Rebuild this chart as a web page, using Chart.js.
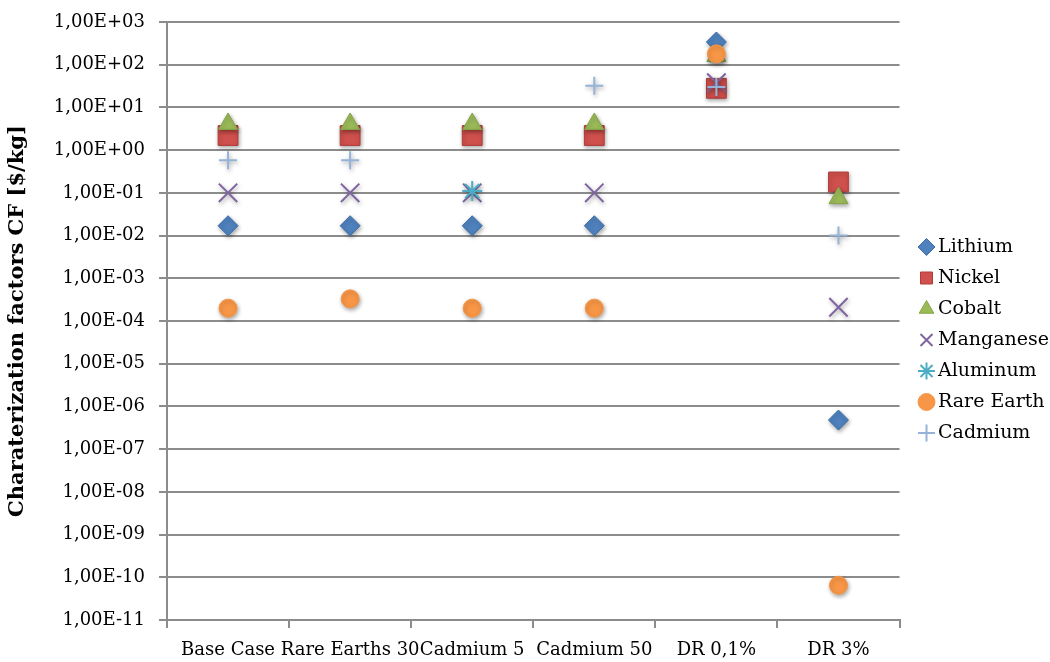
<!DOCTYPE html>
<html lang="en">
<head>
    <meta charset="UTF-8">
    <title>Charaterization factors</title>
    <script src="https://cdn.jsdelivr.net/npm/chart.js"></script>
    <style>
        body { margin: 0; background: #fff; }
        #box { width: 1050px; height: 662px; }
    </style>
</head>
<body>
    <div id="box"><canvas id="grafico"></canvas></div>
    <script>
        // categories and values
        var categories = ['Base Case', 'Rare Earths 30', 'Cadmium 5', 'Cadmium 50', 'DR 0,1%', 'DR 3%'];
        var lithium   = [1.7e-2, 1.7e-2, 1.7e-2, 1.7e-2, 3.4e2, 4.8e-7];
        var nickel    = [2.2, 2.2, 2.2, 2.2, 28, 0.18];
        var cobalt    = [4.1, 4.1, 4.1, 4.1, 160, 0.075];
        var manganese = [0.1, 0.1, 0.1, 0.1, 38, 2.1e-4];
        var aluminum  = [null, null, 0.11, null, null, null];
        var rareEarth = [2.0e-4, 3.3e-4, 2.0e-4, 2.0e-4, 1.8e2, 6.5e-11];
        var cadmium   = [0.58, 0.58, null, 32, 30, 1.0e-2];
        var yTicks = [1e3, 1e2, 1e1, 1e0, 1e-1, 1e-2, 1e-3, 1e-4, 1e-5, 1e-6, 1e-7, 1e-8, 1e-9, 1e-10, 1e-11];

        var serif = "'DejaVu Serif', serif";

        function fmt(v) {
            var e = Math.round(Math.log10(v));
            var m = v / Math.pow(10, e);
            var s = e < 0 ? '-' : '+';
            var a = Math.abs(e);
            return m.toFixed(2).replace('.', ',') + 'E' + s + (a < 10 ? '0' + a : a);
        }

        function serie(label, data, style, radius, fill, border, bw, idx) {
            return {
                label: label,
                data: data,
                pointStyle: style,
                pointRadius: radius,
                pointHoverRadius: radius,
                backgroundColor: fill,
                borderColor: border,
                pointBorderWidth: bw,
                showLine: false,
                order: -idx
            };
        }

        // drop shadow under the markers, like the original
        var sombra = {
            id: 'sombra',
            afterLayout: function (chart) {
                // nudge the legend a little to the right
                chart.legend.left += 13;
                chart.legend.right += 13;
                chart.legend.top -= 2;
                chart.legend.bottom -= 2;
            },
            beforeDatasetsDraw: function (chart) {
                var c = chart.ctx;
                c.save();
                c.shadowColor = 'rgba(0,0,0,0.35)';
                c.shadowBlur = 4;
                c.shadowOffsetX = 1;
                c.shadowOffsetY = 2;
            },
            afterDatasetsDraw: function (chart) {
                chart.ctx.restore();
            }
        };

        var ctx = document.getElementById('grafico').getContext('2d');
        var grafico = new Chart(ctx, {
            type: 'line',
            data: {
                labels: categories,
                datasets: [
                    serie('Lithium', lithium, 'rectRot', 10, '#4F81BD', '#3C6DA8', 1, 0),
                    serie('Nickel', nickel, 'rect', 14, '#D0504D', '#B03C39', 1, 1),
                    serie('Cobalt', cobalt, 'triangle', 11, '#9BBB59', '#86A447', 1, 2),
                    serie('Manganese', manganese, 'crossRot', 13, '#8064A2', '#8064A2', 2, 3),
                    serie('Aluminum', aluminum, 'star', 10, '#4BACC6', '#4BACC6', 2, 4),
                    serie('Rare Earth', rareEarth, 'circle', 9, '#F79646', '#F79646', 1, 5),
                    serie('Cadmium', cadmium, 'cross', 9, '#95B3D7', '#95B3D7', 2, 6)
                ]
            },
            options: {
                responsive: true,
                maintainAspectRatio: false,
                animation: false,
                layout: { padding: { top: 22, right: 4, left: 0, bottom: 0 } },
                plugins: {
                    tooltip: { enabled: false },
                    legend: {
                        position: 'right',
                        labels: {
                            usePointStyle: true,
                            boxWidth: 4,
                            boxHeight: 12,
                            padding: 12,
                            color: '#000',
                            font: { family: serif, size: 19 },
                            sort: function (a, b) { return a.datasetIndex - b.datasetIndex; }
                        }
                    }
                },
                scales: {
                    x: {
                        type: 'category',
                        offset: true,
                        afterFit: function (scale) {
                            scale.height = 42;
                        },
                        grid: {
                            offset: true,
                            drawOnChartArea: false,
                            drawTicks: true,
                            tickLength: 8,
                            color: '#8c8c8c',
                            lineWidth: 2
                        },
                        border: { color: '#8c8c8c', width: 2 },
                        ticks: {
                            color: '#000',
                            font: { family: serif, size: 18 },
                            maxRotation: 0,
                            minRotation: 0,
                            autoSkip: false,
                            padding: 12
                        }
                    },
                    y: {
                        type: 'logarithmic',
                        min: 1e-11,
                        max: 1e3,
                        afterBuildTicks: function (scale) {
                            scale.ticks = yTicks.map(function (v) { return { value: v }; });
                        },
                        afterFit: function (scale) {
                            scale.width = 167;
                            scale.paddingTop = 0;
                            scale.paddingBottom = 0;
                        },
                        grid: {
                            color: '#8c8c8c',
                            lineWidth: 2,
                            tickLength: 8
                        },
                        border: { color: '#8c8c8c', width: 2 },
                        ticks: {
                            color: '#000',
                            font: { family: serif, size: 18 },
                            padding: 14,
                            callback: function (v) { return fmt(v); }
                        },
                        title: {
                            display: true,
                            text: 'Charaterization factors CF [$/kg]',
                            color: '#000',
                            font: { family: serif, size: 21, weight: 'bold' },
                            padding: 5
                        }
                    }
                }
            },
            plugins: [sombra]
        });
    </script>
</body>
</html>
